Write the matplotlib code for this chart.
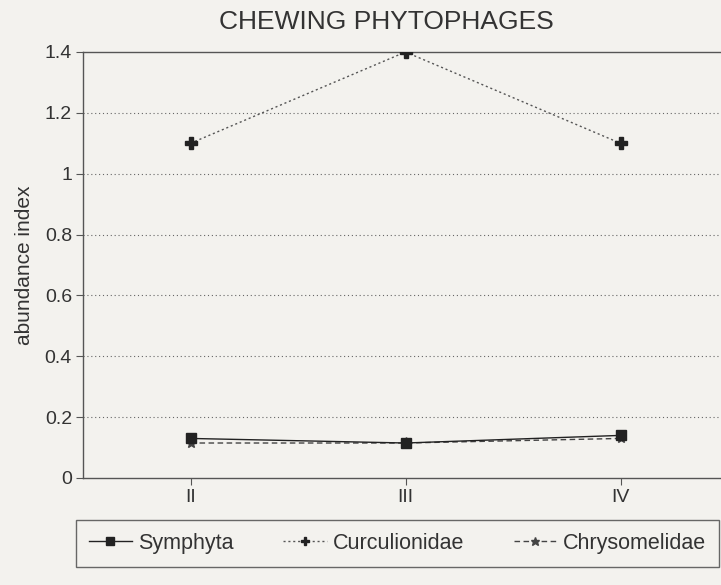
import numpy as np
import matplotlib
matplotlib.use("Agg")
import matplotlib.pyplot as plt

plt.rcParams['font.family'] = ['Liberation Sans', 'DejaVu Sans']

categories = ["II", "III", "IV"]
symphyta = [0.13, 0.115, 0.14]
curculionidae = [1.1, 1.4, 1.1]
chrysomelidae = [0.115, 0.115, 0.13]
y_ticks = [0, 0.2, 0.4, 0.6, 0.8, 1, 1.2, 1.4]
y_tick_labels = ["0", "0.2", "0.4", "0.6", "0.8", "1", "1.2", "1.4"]

bg = '#f3f2ee'
ink = '#333333'

fig = plt.figure(figsize=(7.21, 5.85), dpi=100, facecolor=bg)
ax = fig.add_axes([83 / 721, 1 - 478 / 585, 1 - 83 / 721, (478 - 52) / 585])
ax.set_facecolor(bg)

x = np.arange(1, len(categories) + 1)

ax.plot(x, symphyta, color='#222222', linestyle='-', linewidth=1.0,
        marker='s', markersize=7.5, markerfacecolor='#222222',
        markeredgecolor='#222222', label='Symphyta', zorder=4)
ax.plot(x, curculionidae, color='#555555', linestyle=(0, (1.5, 2)), linewidth=1.0,
        marker='P', markersize=8, markerfacecolor='#222222',
        markeredgecolor='#222222', label='Curculionidae', zorder=4)
ax.plot(x, chrysomelidae, color='#444444', linestyle=(0, (4, 2.5)), linewidth=1.0,
        marker='*', markersize=8, markerfacecolor='#444444',
        markeredgecolor='#444444', label='Chrysomelidae', zorder=3)

ax.set_xlim(0.5, 0.5 + (721 - 83) / 215)
ax.set_ylim(0, 1.4)
ax.set_xticks(x)
ax.set_xticklabels(categories, fontsize=14, color=ink)
ax.set_yticks(y_ticks)
ax.set_yticklabels(y_tick_labels, fontsize=14, color=ink)
ax.tick_params(axis='both', direction='out', length=5, width=0.8, color='#555555', pad=3)

for v in y_ticks[1:-1]:
    ax.axhline(v, color='#666666', linestyle=(0, (1, 2.5)), linewidth=0.8, zorder=1)

for side in ['left', 'bottom', 'top']:
    ax.spines[side].set_color('#555555')
    ax.spines[side].set_linewidth(1.0)
ax.spines['right'].set_visible(False)

ax.set_ylabel("abundance index", fontsize=15, color=ink, labelpad=8)
fig.text(386 / 721, 1 - 22 / 585, "CHEWING PHYTOPHAGES", fontsize=19,
         color=ink, ha='center', va='center')

leg = fig.legend(loc='upper left', ncol=3,
                 bbox_to_anchor=(76 / 721, 1 - 520 / 585),
                 fontsize=15.5, frameon=True, fancybox=False, handlelength=2.0,
                 handletextpad=0.3, columnspacing=2.3, borderpad=0.6,
                 borderaxespad=0, markerscale=0.8)
leg.get_frame().set_edgecolor('#444444')
leg.get_frame().set_facecolor(bg)
leg.get_frame().set_linewidth(1.0)
for t in leg.get_texts():
    t.set_color(ink)

fig.savefig("out.png", dpi=100, facecolor=bg)
